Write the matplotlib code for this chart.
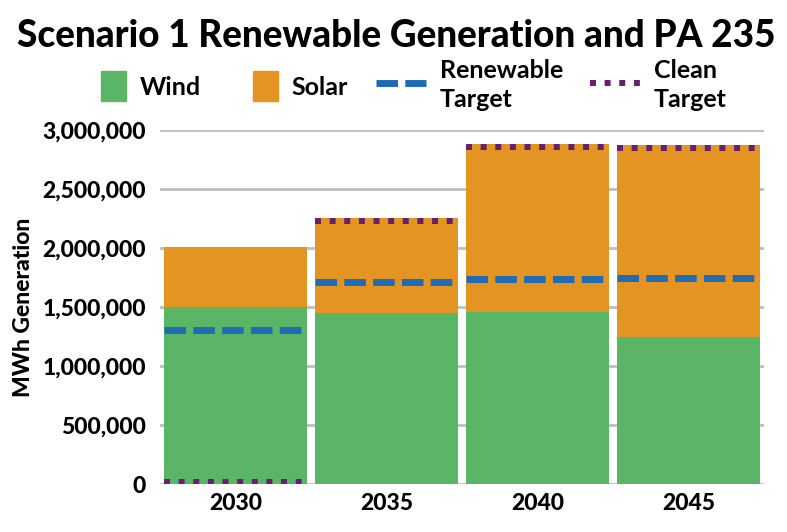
import matplotlib
matplotlib.use("Agg")
import matplotlib.pyplot as plt
from matplotlib.patches import Patch, Rectangle
from matplotlib.lines import Line2D
from matplotlib.legend_handler import HandlerPatch
from matplotlib.ticker import FuncFormatter

years = ["2030", "2035", "2040", "2045"]
wind = [1505000, 1452000, 1457000, 1250000]
solar = [502000, 800000, 1424000, 1622000]
renewable_target = [1308000, 1712000, 1739000, 1745000]
clean_target = [20000, 2226000, 2853000, 2850000]
yticks = [0, 500000, 1000000, 1500000, 2000000, 2500000, 3000000]

GREEN = "#5BB566"
ORANGE = "#E39423"
BLUE = "#1F6BB4"
PURPLE = "#66206E"
FONT = "Lato"
HEAVY = 900

fig = plt.figure(figsize=(7.87, 5.32), dpi=100)
ax = fig.add_axes([0.203, 0.0893, 0.768, 0.6664])

x = list(range(len(years)))
w = 0.947
ax.bar(x, wind, width=w, color=GREEN, zorder=2)
ax.bar(x, solar, width=w, bottom=wind, color=ORANGE, zorder=2)

for i in x:
    ax.plot([i - w / 2, i + w / 2], [renewable_target[i]] * 2, color=BLUE,
            lw=5.0, linestyle=(0, (3.1, 1.05)), dash_capstyle="butt", zorder=3)
    ax.plot([i - w / 2, i + w / 2], [clean_target[i]] * 2, color=PURPLE,
            lw=4.3, linestyle=(0, (1.0, 1.45)), dash_capstyle="butt", zorder=3)

ax.set_xlim(-0.5, 3.5)
ax.set_ylim(0, 3000000)
ax.set_yticks(yticks)
ax.yaxis.set_major_formatter(FuncFormatter(lambda v, p: f"{int(v):,}"))
ax.set_xticks(x)
ax.set_xticklabels(years)
ax.grid(axis="y", color="#BFBFBF", lw=2, zorder=0)
ax.set_axisbelow(True)
for s in ax.spines.values():
    s.set_visible(False)
ax.tick_params(axis="y", length=0, labelsize=16.5, pad=10)
ax.tick_params(axis="x", length=0, labelsize=16.5, pad=6)
for lab in ax.get_xticklabels() + ax.get_yticklabels():
    lab.set_fontweight(HEAVY)
    lab.set_fontfamily(FONT)
ax.set_ylabel("MWh Generation", fontsize=16.5, fontweight=HEAVY, family=FONT, labelpad=6)

fig.text(0.503, 0.932, "Scenario 1 Renewable Generation and PA 235", ha="center",
         va="center", fontsize=26.6, fontweight=HEAVY, family=FONT)


def square_patch(legend, orig_handle, xdescent, ydescent, width, height, fontsize):
    side_w = width * 0.5
    return Rectangle((xdescent + width - side_w, -ydescent), side_w, height)


handles = [
    Patch(color=GREEN),
    Patch(color=ORANGE),
    Line2D([], [], color=BLUE, lw=5.0, linestyle=(0, (3.1, 1.05)), dash_capstyle="butt"),
    Line2D([], [], color=PURPLE, lw=4.3, linestyle=(0, (1.0, 1.45)), dash_capstyle="butt"),
]
labels = ["Wind", "Solar", "Renewable\nTarget", "Clean\nTarget"]
leg = fig.legend(handles, labels, loc="center", bbox_to_anchor=(0.51, 0.84), ncol=4,
                 frameon=False, prop={"family": FONT, "size": 18, "weight": "bold"},
                 handlelength=2.0, handleheight=1.45, columnspacing=1.1, handletextpad=0.55,
                 labelspacing=0.2,
                 handler_map={Patch: HandlerPatch(patch_func=square_patch)})
for t in leg.get_texts():
    t.set_linespacing(1.35)

fig.savefig("out.png", dpi=100)
